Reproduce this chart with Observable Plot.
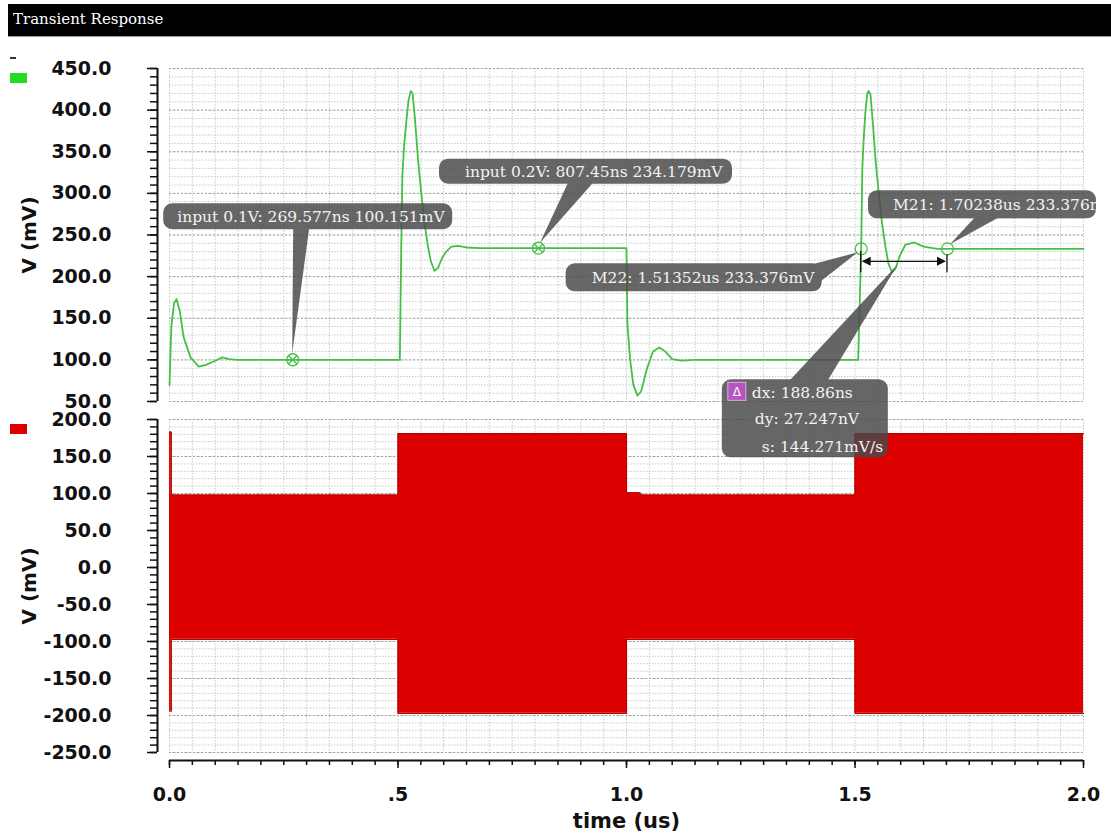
<!DOCTYPE html>
<html>
<head>
<meta charset="utf-8">
<script src="https://cdn.jsdelivr.net/npm/d3@7"></script>
<script src="https://cdn.jsdelivr.net/npm/@observablehq/plot@0.6"></script>
<style>
  html, body { margin: 0; padding: 0; background: #fff; }
  #root { position: relative; width: 1111px; height: 834px; overflow: hidden; background: #fff; }
  #titlebar { position: absolute; left: 8px; top: 4px; width: 1103px; height: 33px; background: #000; color: #fff;
    font-family: "DejaVu Serif", serif; font-size: 15px; line-height: 31px; padding-left: 5px; box-sizing: border-box;
    border-bottom: 1px solid #9a9a9a; }
  .sw { position: absolute; }
  #top { position: absolute; left: 0; top: 40px; z-index: 2; }
  #bot { position: absolute; left: 0; top: 410px; z-index: 1; }
</style>
</head>
<body>
<div id="root">
  <div id="titlebar">Transient Response</div>
  <div class="sw" style="left:10px;top:57px;width:6px;height:2px;background:#333;"></div>
  <div class="sw" style="left:10px;top:73px;width:17px;height:10px;background:#22dd22;"></div>
  <div class="sw" style="left:10px;top:424px;width:17px;height:10px;background:#dd0000;"></div>
  <div id="top"></div>
  <div id="bot"></div>
</div>
<script>
// ---------------- data ----------------
const xMajor = [0, 0.5, 1.0, 1.5, 2.0];
const xMajorLabels = ["0.0", ".5", "1.0", "1.5", "2.0"];
const yTopMajor = [50, 100, 150, 200, 250, 300, 350, 400, 450];
const yBotMajor = [-250, -200, -150, -100, -50, 0, 50, 100, 150, 200];
const yLabel = "V (mV)";
const xLabel = "time (us)";

// green trace (peak detector output), time in us, value in mV
const greenT = [0.000, 0.004, 0.010, 0.0154, 0.022, 0.031, 0.046, 0.064, 0.080, 0.100, 0.1155, 0.130, 0.150,
  0.504, 0.507, 0.5095, 0.513, 0.518, 0.523, 0.528, 0.532, 0.537, 0.544, 0.551, 0.558, 0.565, 0.572, 0.580, 0.588,
  0.597, 0.607, 0.617, 0.632, 0.650, 0.680,
  1.000, 1.002, 1.008, 1.015, 1.024, 1.032, 1.045, 1.058, 1.072, 1.085, 1.100, 1.120, 1.150,
  1.507, 1.5135, 1.516, 1.519, 1.523, 1.527, 1.530, 1.534, 1.539, 1.545, 1.552, 1.559, 1.566, 1.573, 1.581, 1.589,
  1.598, 1.610, 1.630, 1.650, 1.680, 2.000];
const greenV = [70, 140, 168, 173, 160, 127, 103, 92, 94, 99, 103, 101, 100,
  100, 230, 320, 355, 385, 412, 423, 420, 390, 340, 300, 265, 238, 218, 207, 211,
  223, 231, 236, 237, 235, 234.2,
  234.2, 143, 100, 70, 57, 62, 90, 110, 115, 110, 101, 99, 100,
  100, 233.4, 330, 365, 400, 420, 423, 418, 385, 340, 300, 265, 238, 216, 205, 210,
  225, 238, 241, 236, 233.4, 233.4];

// red trace envelope (fast oscillation), time in us, value in mV
const redT  = [0, 0.004, 0.5, 1.0, 1.03, 1.5, 2.0];
const redHi = [183, 98, 181, 101, 98, 181, 181];
const redLo = [-194, -97, -197, -97, -97, -197, -197];

// markers
const markerT = [0.269577, 0.80745, 1.51352, 1.70238];
const markerV = [100.151, 234.179, 233.376, 233.376];
const markerLabels = ["input 0.1V: 269.577ns 100.151mV", "input 0.2V: 807.45ns 234.179mV",
  "M22: 1.51352us 233.376mV", "M21: 1.70238us 233.376mV"];
const markerCross = [true, true, false, false];
const deltaLines = ["dx: 188.86ns", "dy: 27.247nV", "s: 144.271mV/s"];

// ---------------- layout / styles ----------------
const AX_FONT = "DejaVu Sans";
const CO_FONT = "DejaVu Serif";
const GREEN = "#45c045";
const axisText = {fontSize: 19, fontWeight: "bold", fontFamily: AX_FONT};
// callout offsets (px) relative to marker position
const calloutLayout = [
  {box: [-129, -156, 289, 26], text: [-115, -143], wedge: [[1, -131], [17, -131], [0, -6]]},
  {box: [-99, -89, 293, 25], text: [-73, -76.5], wedge: [[30, -65], [55, -65], [2, -5]]},
  {box: [-295, 15, 256, 28], text: [-269, 29], wedge: [[-52, 17], [-40, 33], [-3, 4]]},
  {box: [-79, -58, 228, 28], text: [-54, -44], wedge: [[28, -31], [52, -31], [3, -4]], clip: true}
];
const deltaLayout = {box: [-182, 118, 166, 78], icon: [-176, 121, 18, 18],
  lines: [[-152, 131], [-149, 157], [-142, 185]], wedge: [[-114, 119], [-76, 119], [-6, 3]]};

const xMinor = d3.range(0, 41).map(i => +(i * 0.05).toFixed(2));
const yTopMinor = d3.range(50, 451, 10);
const yBotMinor = d3.range(-250, 201, 10);

const SVGNS = "http://www.w3.org/2000/svg";
function el(tag, attrs, parent) {
  const e = document.createElementNS(SVGNS, tag);
  for (const k in attrs) e.setAttribute(k, attrs[k]);
  if (parent) parent.appendChild(e);
  return e;
}
function findScales(args) {
  return args.find(a => a && !Array.isArray(a) && typeof a.x === "function" && typeof a.y === "function");
}
function coText(parent, x, y, txt) {
  const t = el("text", {x, y, dy: "0.36em", fill: "#f3f3f3", "text-anchor": "start",
    "font-family": CO_FONT, "font-size": "15.5px"}, parent);
  t.textContent = txt;
  return t;
}
let clipId = 0;
function calloutMark(i) {
  return (...args) => {
    const s = findScales(args);
    const L = calloutLayout[i];
    const mx = s.x(markerT[i]), my = s.y(markerV[i]);
    const g = el("g", {"text-anchor": "start"});
    const shape = el("g", {opacity: 0.84}, g);
    const w = L.wedge;
    el("path", {d: `M${mx + w[0][0]},${my + w[0][1]}L${mx + w[1][0]},${my + w[1][1]}L${mx + w[2][0]},${my + w[2][1]}Z`, fill: "#4a4a4a"}, shape);
    el("rect", {x: mx + L.box[0], y: my + L.box[1], width: L.box[2], height: L.box[3], rx: 9, fill: "#4a4a4a"}, shape);
    const t = coText(g, mx + L.text[0], my + L.text[1], markerLabels[i]);
    if (L.clip) {
      const id = "coclip" + (clipId++);
      const cp = el("clipPath", {id}, g);
      el("rect", {x: mx + L.box[0], y: my + L.box[1], width: L.box[2], height: L.box[3]}, cp);
      t.setAttribute("clip-path", `url(#${id})`);
    }
    return g;
  };
}
function deltaMark(...args) {
  const s = findScales(args);
  const x1 = s.x(markerT[2]), x2 = s.x(markerT[3]);
  const ym = s.y(markerV[2]);
  const ya = ym + 13;
  const g = el("g", {"text-anchor": "start"});
  // measurement bars and arrow
  el("line", {x1: x1, x2: x1, y1: ym + 3, y2: ym + 24, stroke: "#111", "stroke-width": 1.3}, g);
  el("line", {x1: x2, x2: x2, y1: ym + 6, y2: ym + 24, stroke: "#111", "stroke-width": 1.3}, g);
  el("line", {x1: x1 + 4, x2: x2 - 4, y1: ya, y2: ya, stroke: "#111", "stroke-width": 1.3}, g);
  el("path", {d: `M${x1 + 1},${ya}l9,-4.5v9Z`, fill: "#111"}, g);
  el("path", {d: `M${x2 - 1},${ya}l-9,-4.5v9Z`, fill: "#111"}, g);
  // delta callout
  const ax = (x1 + x2) / 2, ay = ya;
  const L = deltaLayout;
  const shape = el("g", {opacity: 0.84}, g);
  const w = L.wedge;
  el("path", {d: `M${ax + w[0][0]},${ay + w[0][1]}L${ax + w[1][0]},${ay + w[1][1]}L${ax + w[2][0]},${ay + w[2][1]}Z`, fill: "#4a4a4a"}, shape);
  el("rect", {x: ax + L.box[0], y: ay + L.box[1], width: L.box[2], height: L.box[3], rx: 9, fill: "#4a4a4a"}, shape);
  el("rect", {x: ax + L.icon[0], y: ay + L.icon[1], width: L.icon[2], height: L.icon[3], fill: "#b455c0", stroke: "#e2a8e8", "stroke-width": 1}, g);
  const ic = el("text", {x: ax + L.icon[0] + L.icon[2] / 2, y: ay + L.icon[1] + L.icon[3] / 2, dy: "0.36em",
    "text-anchor": "middle", fill: "#fff", "font-family": AX_FONT, "font-size": "12px"}, g);
  ic.textContent = "Δ";
  deltaLines.forEach((txt, k) => coText(g, ax + L.lines[k][0], ay + L.lines[k][1], txt));
  return g;
}

const greenRows = greenT.map((t, i) => ({t, v: greenV[i]}));
const redRows = redT.map((t, i) => ({t, hi: redHi[i], lo: redLo[i]}));
const markerRows = markerT.map((t, i) => ({t, v: markerV[i], cross: markerCross[i]}));

const minorGrid = {stroke: "#c9c9c9", strokeDasharray: "1.5,1.5", strokeWidth: 1};
const majorGrid = {stroke: "#a5a5a5", strokeDasharray: "2,2", strokeWidth: 1};

// ---------------- top panel ----------------
const topPlot = Plot.plot({
  width: 1111, height: 370,
  marginLeft: 169, marginRight: 28, marginTop: 28, marginBottom: 9,
  x: {domain: [0, 2], axis: null, label: null},
  y: {domain: [50, 450], axis: null, label: null},
  style: {background: "transparent", overflow: "visible", color: "#111"},
  marks: [
    Plot.ruleX(xMinor, minorGrid),
    Plot.ruleY(yTopMinor, minorGrid),
    Plot.ruleY(yTopMajor, majorGrid),
    Plot.ruleX([0], {y1: 50, y2: 450, dx: -12, stroke: "#111", strokeWidth: 2}),
    Plot.axisY(yTopMinor, {tickSize: 7, tickFormat: () => "", dx: -12, strokeWidth: 1.5, label: null}),
    Plot.axisY(yTopMajor, {tickSize: 10, tickPadding: 36, dx: -12, strokeWidth: 1.5, label: null,
      tickFormat: d => d.toFixed(1), ...axisText}),
    Plot.text([yLabel], {frameAnchor: "left", rotate: -90, dx: -140, textAnchor: "middle",
      fontSize: 20, fontWeight: "bold", fontFamily: AX_FONT}),
    Plot.line(greenRows, {x: "t", y: "v", stroke: GREEN, strokeWidth: 1.8}),
    Plot.dot(markerRows, {x: "t", y: "v", r: 6, stroke: GREEN, strokeWidth: 1.3, fill: "none"}),
    Plot.dot(markerRows.filter(d => d.cross), {x: "t", y: "v", r: 4.2, symbol: "times", stroke: GREEN, strokeWidth: 1.3}),
    deltaMark,
    calloutMark(0), calloutMark(1), calloutMark(2), calloutMark(3)
  ]
});
document.getElementById("top").appendChild(topPlot);

// ---------------- bottom panel ----------------
const botPlot = Plot.plot({
  width: 1111, height: 424,
  marginLeft: 169, marginRight: 28, marginTop: 9, marginBottom: 82,
  x: {domain: [0, 2], axis: null, label: null},
  y: {domain: [-250, 200], axis: null, label: null},
  style: {background: "transparent", overflow: "visible", color: "#111"},
  marks: [
    Plot.ruleX(xMinor, minorGrid),
    Plot.ruleY(yBotMinor, minorGrid),
    Plot.ruleY(yBotMajor, majorGrid),
    Plot.areaY(redRows, {x: "t", y1: "lo", y2: "hi", curve: "step-after", fill: "#dd0000"}),
    Plot.line(redRows, {x: "t", y: "hi", curve: "step-after", stroke: "#b80000", strokeWidth: 1.2}),
    Plot.line(redRows, {x: "t", y: "lo", curve: "step-after", stroke: "#b80000", strokeWidth: 1.2}),
    Plot.ruleX([0], {y1: -250, y2: 200, dx: -12, stroke: "#111", strokeWidth: 2}),
    Plot.axisY(yBotMinor, {tickSize: 7, tickFormat: () => "", dx: -12, strokeWidth: 1.5, label: null}),
    Plot.axisY(yBotMajor, {tickSize: 10, tickPadding: 36, dx: -12, strokeWidth: 1.5, label: null,
      tickFormat: d => d.toFixed(1), ...axisText}),
    Plot.ruleY([-250], {dy: 8, stroke: "#111", strokeWidth: 2}),
    Plot.axisX(xMinor, {tickSize: 5, tickFormat: () => "", dy: 8, strokeWidth: 1.5, label: null}),
    Plot.axisX(xMajor, {tickSize: 8, tickPadding: 19, dy: 8, strokeWidth: 1.5, label: null,
      tickFormat: d => xMajorLabels[xMajor.indexOf(d)], ...axisText}),
    Plot.text([xLabel], {frameAnchor: "bottom", dy: 75, textAnchor: "middle",
      fontSize: 21, fontWeight: "bold", fontFamily: AX_FONT}),
    Plot.text([yLabel], {frameAnchor: "left", rotate: -90, dx: -140, textAnchor: "middle",
      fontSize: 20, fontWeight: "bold", fontFamily: AX_FONT})
  ]
});
document.getElementById("bot").appendChild(botPlot);
</script>
</body>
</html>
